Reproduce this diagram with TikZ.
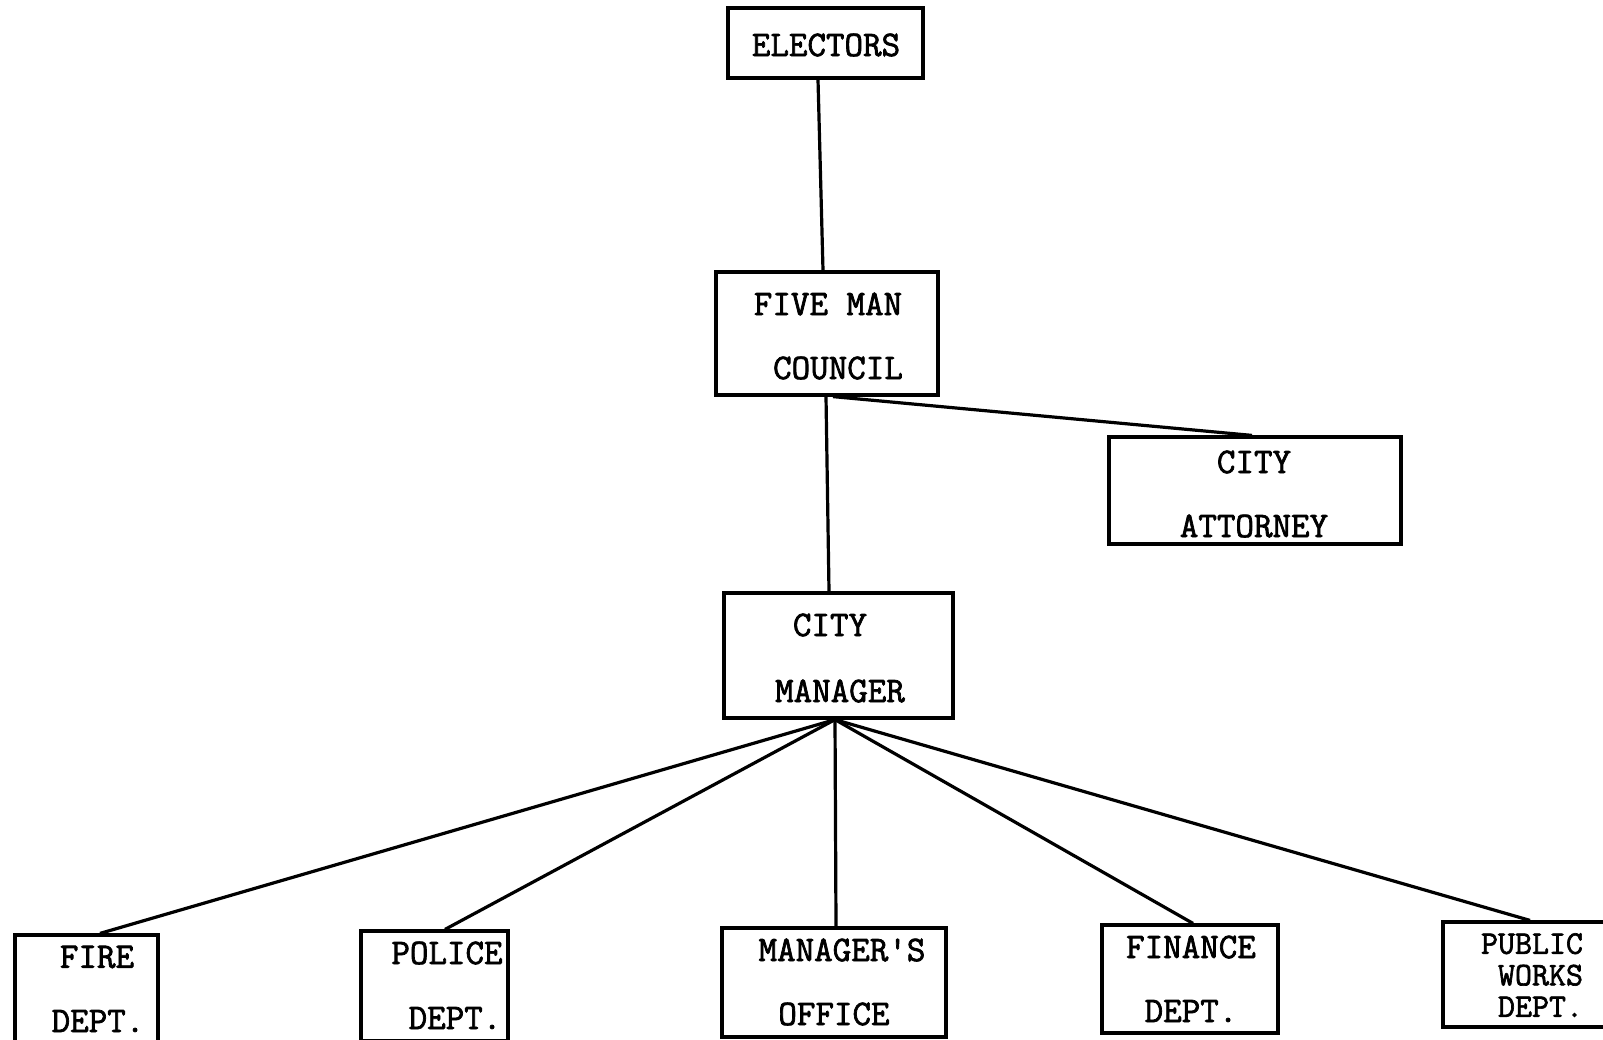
\documentclass[tikz,border=0pt]{standalone}
\usepackage{fontspec}
\newfontfamily\twfont[FakeBold=2]{Latin Modern Mono}
\usetikzlibrary{calc}
\begin{document}
\begin{tikzpicture}[x=1pt,y=-1pt,
  box/.style={draw=black,line width=3.2pt,rectangle,inner sep=0pt,fill=none},
  lab/.style={font=\twfont\fontsize{36}{31}\selectfont,inner sep=0pt,anchor=center},
  conn/.style={draw=black,line width=3.2pt}]
\useasboundingbox[fill=white] (0,0) rectangle (1603,1039);
% boxes
\node[box,minimum width=195pt,minimum height=70pt] (el) at (825.5,43) {};
\node[box,minimum width=222pt,minimum height=123pt] (fmc) at (827,333.5) {};
\node[box,minimum width=292pt,minimum height=107pt] (att) at (1255,490.5) {};
\node[box,minimum width=229pt,minimum height=125pt] (cm) at (838.5,655.5) {};
\node[box,minimum width=143pt,minimum height=110pt] (fire) at (86.5,990) {};
\node[box,minimum width=147pt,minimum height=110pt] (pol) at (434.5,986) {};
\node[box,minimum width=224pt,minimum height=109pt] (mo) at (834,982.5) {};
\node[box,minimum width=176pt,minimum height=108pt] (fin) at (1190,979) {};
\node[box,minimum width=167pt,minimum height=105pt] (pw) at (1526.5,974.5) {};
% texts
\node[lab] (t1) at (826,45) {ELECTORS};
\node[lab] (t2) at (828,304) {FIVE MAN};
\node[lab] (t3) at (838,368) {COUNCIL};
\node[lab] (t4) at (1254,462) {CITY};
\node[lab] (t5) at (1254,526) {ATTORNEY};
\node[lab] (t6) at (830,625) {CITY};
\node[lab] (t7) at (840,691) {MANAGER};
\node[lab] (t8) at (97,957) {FIRE};
\node[lab] (t9) at (98,1021) {DEPT.};
\node[lab] (t10) at (447,953) {POLICE};
\node[lab] (t11) at (455,1018) {DEPT.};
\node[lab] (t12) at (842,950) {MANAGER'S};
\node[lab] (t13) at (834,1014) {OFFICE};
\node[lab] (t14) at (1191,947) {FINANCE};
\node[lab] (t15) at (1191,1011) {DEPT.};
\node[lab,font=\twfont\fontsize{33}{31.5}\selectfont,align=left] (t16) at (1532,975) {PUBLIC\\\phantom{X}WORKS\\\phantom{X}DEPT.};
% connectors
\coordinate (hub) at ($(cm.south)+(-3.5,0)$);
\draw[conn] ($(el.south)+(-7.5,0)$) -- ($(fmc.north)+(-4,0)$);
\draw[conn] ($(fmc.south)+(6,0)$) -- ($(att.north)+(-3,0)$);
\draw[conn] ($(fmc.south)+(-1,0)$) -- ($(cm.north)+(-9.5,0)$);
\draw[conn] (hub) -- ($(fire.north)+(13.5,0)$);
\draw[conn] (hub) -- ($(pol.north)+(10.5,0)$);
\draw[conn] (hub) -- ($(mo.north)+(2,0)$);
\draw[conn] (hub) -- ($(fin.north)+(3,0)$);
\draw[conn] (hub) -- ($(pw.north)+(3.5,0)$);
\end{tikzpicture}
\end{document}
